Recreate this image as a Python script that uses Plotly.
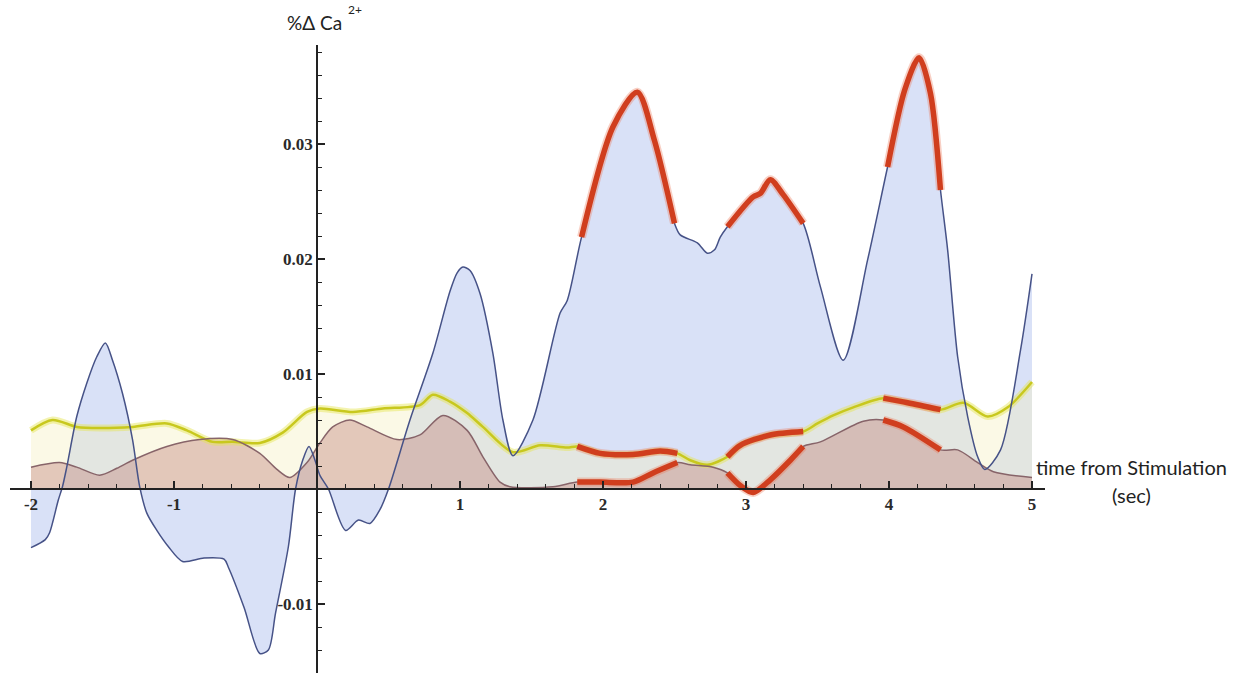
import plotly.graph_objects as go

# ---- data ----
blue_t = [-2.00, -1.90, -1.87, -1.81, -1.78, -1.75, -1.68, -1.61, -1.54, -1.48, -1.43, -1.36, -1.29,
          -1.24, -1.19, -1.12, -1.04, -0.94, -0.79, -0.65, -0.62, -0.51, -0.40, -0.34, -0.29, -0.20,
          -0.15, -0.10, -0.056, -0.014, 0.02, 0.08, 0.20, 0.29, 0.37, 0.44, 0.50, 0.65, 0.81, 0.93,
          0.98, 1.02, 1.07, 1.14, 1.23, 1.30, 1.37, 1.51, 1.70, 1.75, 1.85, 2.07, 2.24, 2.36, 2.50,
          2.54, 2.66, 2.73, 2.78, 2.82, 2.87, 3.05, 3.10, 3.17, 3.26, 3.40, 3.52, 3.68, 3.85, 3.99,
          4.11, 4.21, 4.29, 4.36, 4.41, 4.48, 4.55, 4.62, 4.67, 4.78, 4.92, 5.00]
blue_v = [-0.0051, -0.0044, -0.0038, -0.0010, 0.0002, 0.0019, 0.0063, 0.0092, 0.0115, 0.0127, 0.0112,
          0.0083, 0.0043, 0.0002, -0.0021, -0.0036, -0.0050, -0.0063, -0.0060, -0.0061, -0.0068,
          -0.0103, -0.0143, -0.0140, -0.0108, -0.0050, 0.0, 0.0025, 0.0037, 0.0025, 0.0012, 0.0,
          -0.0036, -0.0027, -0.0030, -0.0018, 0.0, 0.0060, 0.0118, 0.0172, 0.0188, 0.0193, 0.0190,
          0.0170, 0.0118, 0.0060, 0.0029, 0.0060, 0.0153, 0.0164, 0.0219, 0.0315, 0.0345, 0.0303,
          0.0231, 0.0221, 0.0214, 0.0205, 0.0208, 0.0219, 0.0228, 0.0254, 0.0257, 0.0269, 0.0256,
          0.0231, 0.0176, 0.0112, 0.0199, 0.0280, 0.0347, 0.0375, 0.0344, 0.0260, 0.0208, 0.0115,
          0.0063, 0.0028, 0.0017, 0.0034, 0.0121, 0.0187]

yellow_t = [-2.00, -1.85, -1.68, -1.52, -1.29, -1.05, -0.91, -0.73, -0.59, -0.40, -0.24, -0.07, 0.02,
            0.25, 0.46, 0.72, 0.81, 0.93, 1.05, 1.16, 1.37, 1.56, 1.75, 1.82, 1.98, 2.21, 2.40, 2.52,
            2.61, 2.73, 2.87, 2.96, 3.17, 3.40, 3.50, 3.61, 3.75, 3.96, 4.13, 4.36, 4.52, 4.69, 4.83,
            5.00]
yellow_v = [0.0051, 0.0060, 0.0054, 0.0053, 0.0054, 0.0057, 0.0051, 0.0041, 0.0041, 0.0040, 0.0049,
            0.0067, 0.0070, 0.0067, 0.0070, 0.0073, 0.0082, 0.0076, 0.0066, 0.0054, 0.0032, 0.0038,
            0.0036, 0.0037, 0.0031, 0.0030, 0.0033, 0.0031, 0.0025, 0.0021, 0.0028, 0.0038, 0.0047,
            0.0050, 0.0057, 0.0064, 0.0071, 0.0079, 0.0075, 0.0069, 0.0075, 0.0063, 0.0071, 0.0093]

brown_t = [-2.00, -1.80, -1.68, -1.52, -1.40, -1.29, -1.05, -0.82, -0.59, -0.40, -0.28, -0.19, -0.07,
           0.02, 0.11, 0.23, 0.35, 0.56, 0.72, 0.88, 1.05, 1.16, 1.28, 1.35, 1.65, 1.82, 1.98, 2.21,
           2.35, 2.52, 2.61, 2.77, 2.87, 2.96, 3.05, 3.17, 3.31, 3.40, 3.52, 3.82, 3.96, 4.10, 4.36,
           4.48, 4.62, 4.73, 5.00]
brown_v = [0.0019, 0.0023, 0.0019, 0.0012, 0.0018, 0.0025, 0.0037, 0.0043, 0.0043, 0.0031, 0.0017,
           0.0010, 0.0023, 0.0040, 0.0054, 0.0060, 0.0054, 0.0043, 0.0047, 0.0064, 0.0051, 0.0028,
           0.0006, 0.0002, 0.0002, 0.0006, 0.0006, 0.0006, 0.0014, 0.0023, 0.0021, 0.0019, 0.0014,
           0.0003, -0.0003, 0.0008, 0.0025, 0.0037, 0.0041, 0.0059, 0.0060, 0.0054, 0.0034, 0.0034,
           0.0023, 0.0015, 0.0010]

# highlighted (red) time windows
red_windows = [(1.82, 2.52), (2.87, 3.40), (3.96, 4.36)]

x_tickvals = [-2, -1, 1, 2, 3, 4, 5]
x_ticktext = ["-2", "-1", "1", "2", "3", "4", "5"]
y_tickvals = [-0.01, 0.01, 0.02, 0.03]
y_ticktext = ["-0.01", "0.01", "0.02", "0.03"]

# ---- layout calibration (pixels) ----
W, H = 1234, 673
px_x0, px_per_unit = 317, 143.0     # pixel of t=0, pixels per second
py_y0, py_per_unit = 489, 11500.0   # pixel of v=0, pixels per unit value
ax_left, ax_right = 10, 1045
ax_top, ax_bottom = 45, 673

xr = [(ax_left - px_x0) / px_per_unit, (ax_right - px_x0) / px_per_unit]
yr = [(py_y0 - ax_bottom) / py_per_unit, (py_y0 - ax_top) / py_per_unit]

fig = go.Figure()

def sub(ts, vs, lo, hi):
    pts = [(t, v) for t, v in zip(ts, vs) if lo - 1e-9 <= t <= hi + 1e-9]
    return [p[0] for p in pts], [p[1] for p in pts]

SH = dict(shape="spline", smoothing=0.8)

# fills
fig.add_trace(go.Scatter(x=blue_t, y=blue_v, mode="lines", fill="tozeroy",
                         fillcolor="rgba(160,180,236,0.40)", line=dict(width=0, **SH),
                         hoverinfo="skip", showlegend=False))
fig.add_trace(go.Scatter(x=yellow_t, y=yellow_v, mode="lines", fill="tozeroy",
                         fillcolor="rgba(245,238,190,0.38)", line=dict(width=0, **SH),
                         hoverinfo="skip", showlegend=False))
fig.add_trace(go.Scatter(x=brown_t, y=brown_v, mode="lines", fill="tozeroy",
                         fillcolor="rgba(192,128,120,0.40)", line=dict(width=0, **SH),
                         hoverinfo="skip", showlegend=False))

# lines
fig.add_trace(go.Scatter(x=yellow_t, y=yellow_v, mode="lines",
                         line=dict(color="rgba(228,228,80,0.45)", width=7, **SH),
                         hoverinfo="skip", showlegend=False))
fig.add_trace(go.Scatter(x=yellow_t, y=yellow_v, mode="lines",
                         line=dict(color="rgb(200,200,30)", width=2.5, **SH),
                         hoverinfo="skip", showlegend=False))
fig.add_trace(go.Scatter(x=brown_t, y=brown_v, mode="lines",
                         line=dict(color="rgb(135,100,105)", width=1.5, **SH),
                         hoverinfo="skip", showlegend=False))
fig.add_trace(go.Scatter(x=blue_t, y=blue_v, mode="lines",
                         line=dict(color="rgb(70,82,135)", width=1.5, **SH),
                         hoverinfo="skip", showlegend=False))

# red highlights
for lo, hi in red_windows:
    for ts, vs in ((blue_t, blue_v), (yellow_t, yellow_v), (brown_t, brown_v)):
        sx, sy = sub(ts, vs, lo, hi)
        fig.add_trace(go.Scatter(x=sx, y=sy, mode="lines",
                                 line=dict(color="rgba(235,120,90,0.35)", width=9, **SH),
                                 hoverinfo="skip", showlegend=False))
        fig.add_trace(go.Scatter(x=sx, y=sy, mode="lines",
                                 line=dict(color="rgb(208,62,30)", width=5.5, **SH),
                                 hoverinfo="skip", showlegend=False))

tickfont = dict(family="Liberation Serif", size=17, color="#2a2a2a", weight="bold")

fig.update_layout(
    width=W, height=H, margin=dict(l=0, r=0, t=0, b=0),
    paper_bgcolor="white", plot_bgcolor="white",
    xaxis=dict(domain=[ax_left / W, ax_right / W], range=xr, anchor="free",
               position=(H - py_y0) / H, showgrid=False, zeroline=False,
               showline=True, linecolor="#222", linewidth=1.6,
               tickmode="array", tickvals=x_tickvals, ticktext=x_ticktext,
               ticks="inside", ticklen=7, tickwidth=1.5, tickcolor="#222",
               tickfont=tickfont,
               minor=dict(dtick=0.2, tick0=0, ticks="inside", ticklen=4,
                          tickwidth=1.2, tickcolor="#222", showgrid=False)),
    yaxis=dict(domain=[1 - ax_bottom / H, 1 - ax_top / H], range=yr, anchor="free",
               position=px_x0 / W, showgrid=False, zeroline=False,
               showline=True, linecolor="#222", linewidth=1.6,
               tickmode="array", tickvals=y_tickvals, ticktext=y_ticktext,
               ticks="inside", ticklen=7, tickwidth=1.5, tickcolor="#222",
               tickfont=tickfont,
               minor=dict(dtick=0.002, tick0=0, ticks="inside", ticklen=4,
                          tickwidth=1.2, tickcolor="#222", showgrid=False)),
    annotations=[
        dict(text="%Δ Ca", xref="paper", yref="paper",
             x=314 / W, y=1 - 23 / H, xanchor="center", yanchor="middle",
             showarrow=False, font=dict(family="Lato", size=19, color="#222")),
        dict(text="2+", xref="paper", yref="paper",
             x=355 / W, y=1 - 10 / H, xanchor="center", yanchor="middle",
             showarrow=False, font=dict(family="Lato", size=12, color="#222")),
        dict(text="time from Stimulation", xref="paper", yref="paper",
             x=1131 / W, y=1 - 467 / H, xanchor="center", yanchor="middle",
             showarrow=False, font=dict(family="Lato", size=20, color="#222")),
        dict(text="(sec)", xref="paper", yref="paper",
             x=1131 / W, y=1 - 495 / H, xanchor="center", yanchor="middle",
             showarrow=False, font=dict(family="Lato", size=20, color="#222")),
    ],
)

fig.write_html("out.html")
